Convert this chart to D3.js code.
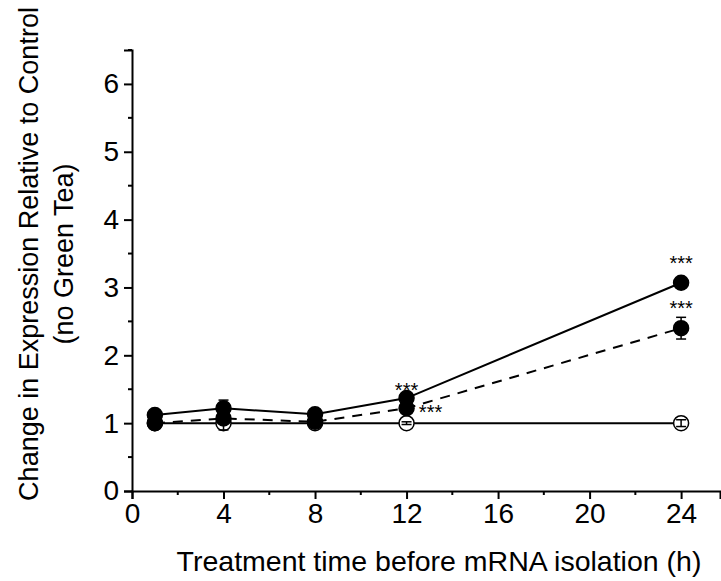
<!DOCTYPE html>
<html>
<head>
<meta charset="utf-8">
<script src="https://cdn.jsdelivr.net/npm/d3@7"></script>
<style>
body{margin:0;background:#fff;}
text{font-family:Arial,"Liberation Sans",sans-serif;fill:#000;}
</style>
</head>
<body>
<div id="canvas"></div>
<script>
// data
var times = [1, 4, 8, 12, 24];
var solidMean  = [1.12, 1.22, 1.13, 1.37, 3.07];
var solidErr   = [0.03, 0.12, 0.04, 0.04, 0.06];
var dashedMean = [1.00, 1.07, 1.02, 1.22, 2.40];
var dashedErr  = [0.03, 0.04, 0.03, 0.05, 0.16];
var openMean   = [1.00, 1.00, 1.00, 1.00, 1.00];
var openErr    = [0.02, 0.10, 0.02, 0.02, 0.05];
var solidStars  = ['', '', '', '***', '***'];
var dashedStars = ['', '', '', '***', '***'];
var xTicks = [0, 4, 8, 12, 16, 20, 24];
var yTicks = [0, 1, 2, 3, 4, 5, 6];

var W = 721, H = 581;
var svg = d3.select('#canvas').append('svg')
    .attr('width', W).attr('height', H);

var x = d3.scaleLinear().domain([0, 25.7]).range([132, 720]);
var y = d3.scaleLinear().domain([0, 6.5]).range([491, 50]);

// axes
var xAxis = d3.axisBottom(x).tickValues(xTicks).tickSize(8).tickPadding(4).tickFormat(d3.format('d'));
var yAxis = d3.axisLeft(y).tickValues(yTicks).tickSize(8).tickPadding(5).tickFormat(d3.format('d'));

var gx = svg.append('g').attr('transform', 'translate(0,' + y(0) + ')').call(xAxis);
var gy = svg.append('g').attr('transform', 'translate(' + x(0) + ',0)').call(yAxis);

// minor ticks
gx.selectAll('.minor').data(d3.range(2, 25, 4)).enter().append('line')
    .attr('x1', d => x(d)).attr('x2', d => x(d)).attr('y1', 0).attr('y2', 4)
    .attr('stroke', '#000').attr('stroke-width', 2);
gy.selectAll('.minor').data(d3.range(0.5, 6.6, 1)).enter().append('line')
    .attr('y1', d => y(d)).attr('y2', d => y(d)).attr('x1', 0).attr('x2', -4)
    .attr('stroke', '#000').attr('stroke-width', 2);

[gx, gy].forEach(function(g){
  g.select('.domain').attr('stroke-width', 2);
  g.selectAll('.tick line').attr('stroke-width', 2);
  g.selectAll('.tick text').style('font-size', '28px').style('font-family', 'Arial, "Liberation Sans", sans-serif');
});

// axis titles
svg.append('text')
    .attr('x', 439).attr('y', 571)
    .attr('text-anchor', 'middle').style('font-size', '28.5px')
    .text('Treatment time before mRNA isolation (h)');

var yl = svg.append('text')
    .attr('transform', 'translate(38,254) rotate(-90)')
    .attr('text-anchor', 'middle').style('font-size', '27px');
yl.append('tspan').attr('x', 0).attr('y', 0).text('Change in Expression Relative to Control');
yl.append('tspan').attr('x', 0).attr('y', 35).text('(no Green Tea)');

// series
var series = [
  {mean: openMean, err: openErr, fill: '#fff', dash: null, stars: null},
  {mean: dashedMean, err: dashedErr, fill: '#000', dash: '10,8', stars: dashedStars},
  {mean: solidMean, err: solidErr, fill: '#000', dash: null, stars: solidStars}
];

var line = d3.line().x(d => x(d.t)).y(d => y(d.v));

series.forEach(function(s, si){
  var pts = times.map((t, i) => ({t: t, v: s.mean[i], e: s.err[i], i: i}));
  var g = svg.append('g');

  g.append('path').datum(pts).attr('d', line)
      .attr('fill', 'none').attr('stroke', '#000').attr('stroke-width', 2)
      .attr('stroke-dasharray', s.dash);

  g.selectAll('circle').data(pts).enter().append('circle')
      .attr('cx', d => x(d.t)).attr('cy', d => y(d.v)).attr('r', 7.5)
      .attr('fill', s.fill).attr('stroke', '#000').attr('stroke-width', 1.5);

  var eb = g.selectAll('.eb').data(pts).enter().append('g');
  eb.append('line')
      .attr('x1', d => x(d.t)).attr('x2', d => x(d.t))
      .attr('y1', d => y(d.v - d.e)).attr('y2', d => y(d.v + d.e))
      .attr('stroke', '#000').attr('stroke-width', 1.5);
  eb.selectAll('.cap').data(d => [d.v - d.e, d.v + d.e].map(v => ({t: d.t, v: v}))).enter().append('line')
      .attr('x1', d => x(d.t) - 5).attr('x2', d => x(d.t) + 5)
      .attr('y1', d => y(d.v)).attr('y2', d => y(d.v))
      .attr('stroke', '#000').attr('stroke-width', 1.5);

  if (s.stars) {
    g.selectAll('.star').data(pts.filter(d => s.stars[d.i])).enter().append('text')
        .attr('x', function(d){ return (s.dash && d.t === 12) ? x(d.t) + 24 : x(d.t); })
        .attr('y', function(d){
          if (s.dash && d.t === 12) return y(d.v) + 11;
          if (d.t === 12) return y(d.v) - 1;
          return y(d.v) - 13;
        })
        .attr('text-anchor', 'middle').style('font-size', '20px')
        .text(d => s.stars[d.i]);
  }
});
</script>
</body>
</html>
